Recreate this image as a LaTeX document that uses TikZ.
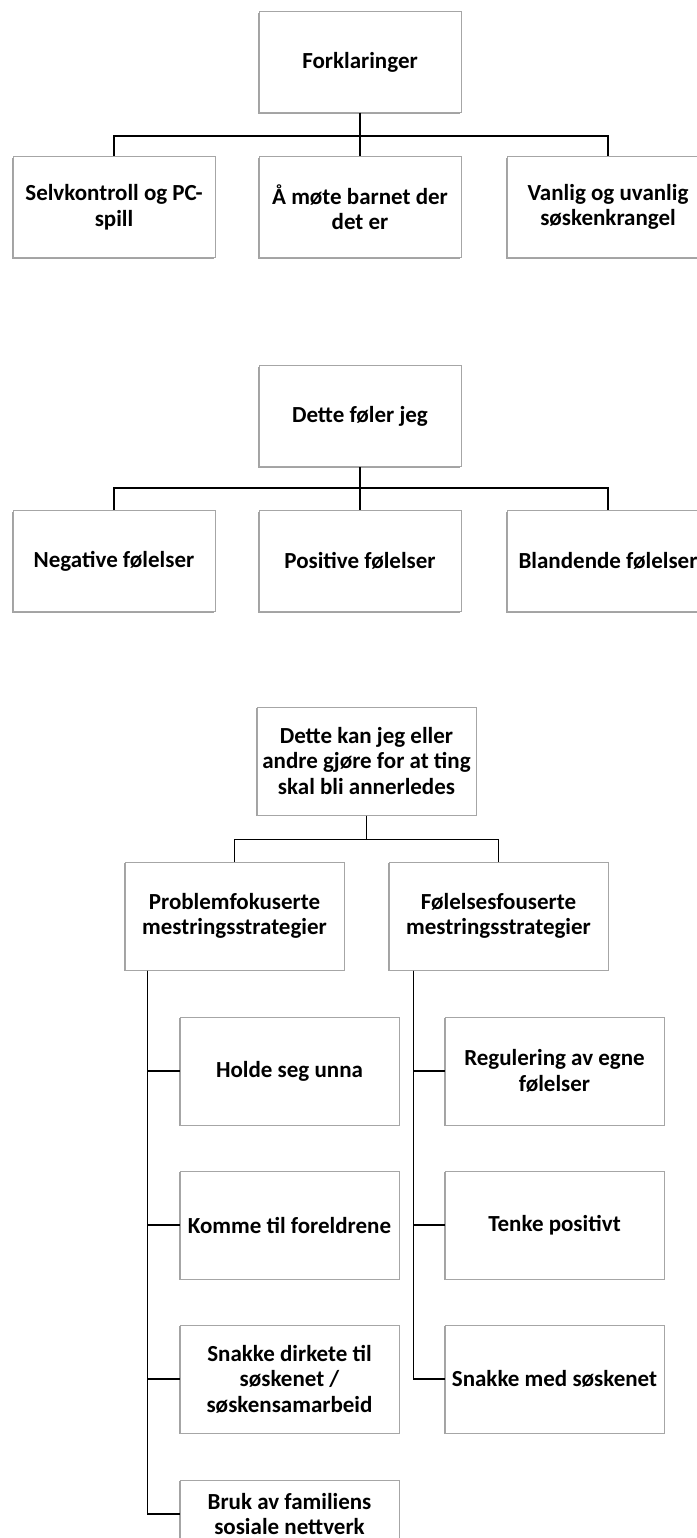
\documentclass[tikz,border=0pt]{standalone}
\usepackage{fontspec}
\setmainfont{Carlito}
\usepackage{tikz}
\usetikzlibrary{positioning,shadows}

\begin{document}
\begin{tikzpicture}[
    x=1pt, y=1pt,
    font=\fontsize{23}{25.5}\selectfont\bfseries,
    box/.style={draw=black!35, line width=1pt, fill=white, align=center,
        minimum width=202pt, minimum height=101pt, inner sep=1pt,
        drop shadow={shadow xshift=-0.6pt, shadow yshift=-1.4pt, fill=black!45, opacity=0.8}},
    bigbox/.style={box, minimum width=219pt, minimum height=108pt},
    line/.style={draw=black, line width=1.5pt}
]
\useasboundingbox (0,0) rectangle (696,-1538);

% Forklaringer
\node[box] (forkl) at (360,-62) {Forklaringer};
\node[box, below=43pt of forkl] (mote) {Å møte barnet der\\det er};
\node[box, left=43pt of mote] (selv) {Selvkontroll og PC-\\spill};
\node[box, right=45pt of mote] (krangel) {Vanlig og uvanlig\\søskenkrangel};

\draw[line] (forkl.south) -- ++(0,-23) -| (selv.north);
\draw[line] (forkl.south) -- ++(0,-23) -| (krangel.north);
\draw[line] (forkl) -- (mote);

% Dette foler jeg
\node[box] (foler) at (360,-416) {Dette føler jeg};
\node[box, below=43pt of foler] (positiv) {Positive følelser};
\node[box, left=43pt of positiv] (negativ) {Negative følelser};
\node[box, right=45pt of positiv] (blandet) {Blandende følelser};

\draw[line] (foler.south) -- ++(0,-21) -| (negativ.north);
\draw[line] (foler.south) -- ++(0,-21) -| (blandet.north);
\draw[line] (foler) -- (positiv);

% Dette kan jeg gjore
\node[bigbox] (gjore) at (366.5,-761) {Dette kan jeg eller\\andre gjøre for at ting\\skal bli annerledes};
\node[bigbox, below=46pt of gjore, xshift=-132pt] (problem) {Problemfokuserte\\mestringsstrategier};
\node[bigbox, below=46pt of gjore, xshift=132pt] (folelse) {Følelsesfouserte\\mestringsstrategier};

\draw[line] (gjore.south) -- ++(0,-24) -| (problem.north);
\draw[line] (gjore.south) -- ++(0,-24) -| (folelse.north);

% problemfokuserte
\node[bigbox, below=46pt of problem, xshift=55pt] (unna) {Holde seg unna};
\node[bigbox, below=45pt of unna] (foreldre) {Komme til foreldrene};
\node[bigbox, below=45pt of foreldre] (direkte) {Snakke dirkete til\\søskenet /\\søskensamarbeid};
\node[bigbox, minimum height=68pt, below=46pt of direkte] (nettverk) {Bruk av familiens\\sosiale nettverk};

% folelsesfokuserte
\node[bigbox, below=46pt of folelse, xshift=56pt] (regulering) {Regulering av egne\\følelser};
\node[bigbox, below=45pt of regulering] (tenke) {Tenke positivt};
\node[bigbox, below=45pt of tenke] (snakke) {Snakke med søskenet};

\coordinate (ltrunk) at ([xshift=23pt]problem.south west);
\coordinate (rtrunk) at ([xshift=25pt]folelse.south west);
\foreach \n in {unna,foreldre,direkte,nettverk}
    \draw[line] (ltrunk) |- (\n.west);
\foreach \n in {regulering,tenke,snakke}
    \draw[line] (rtrunk) |- (\n.west);
\end{tikzpicture}
\end{document}
